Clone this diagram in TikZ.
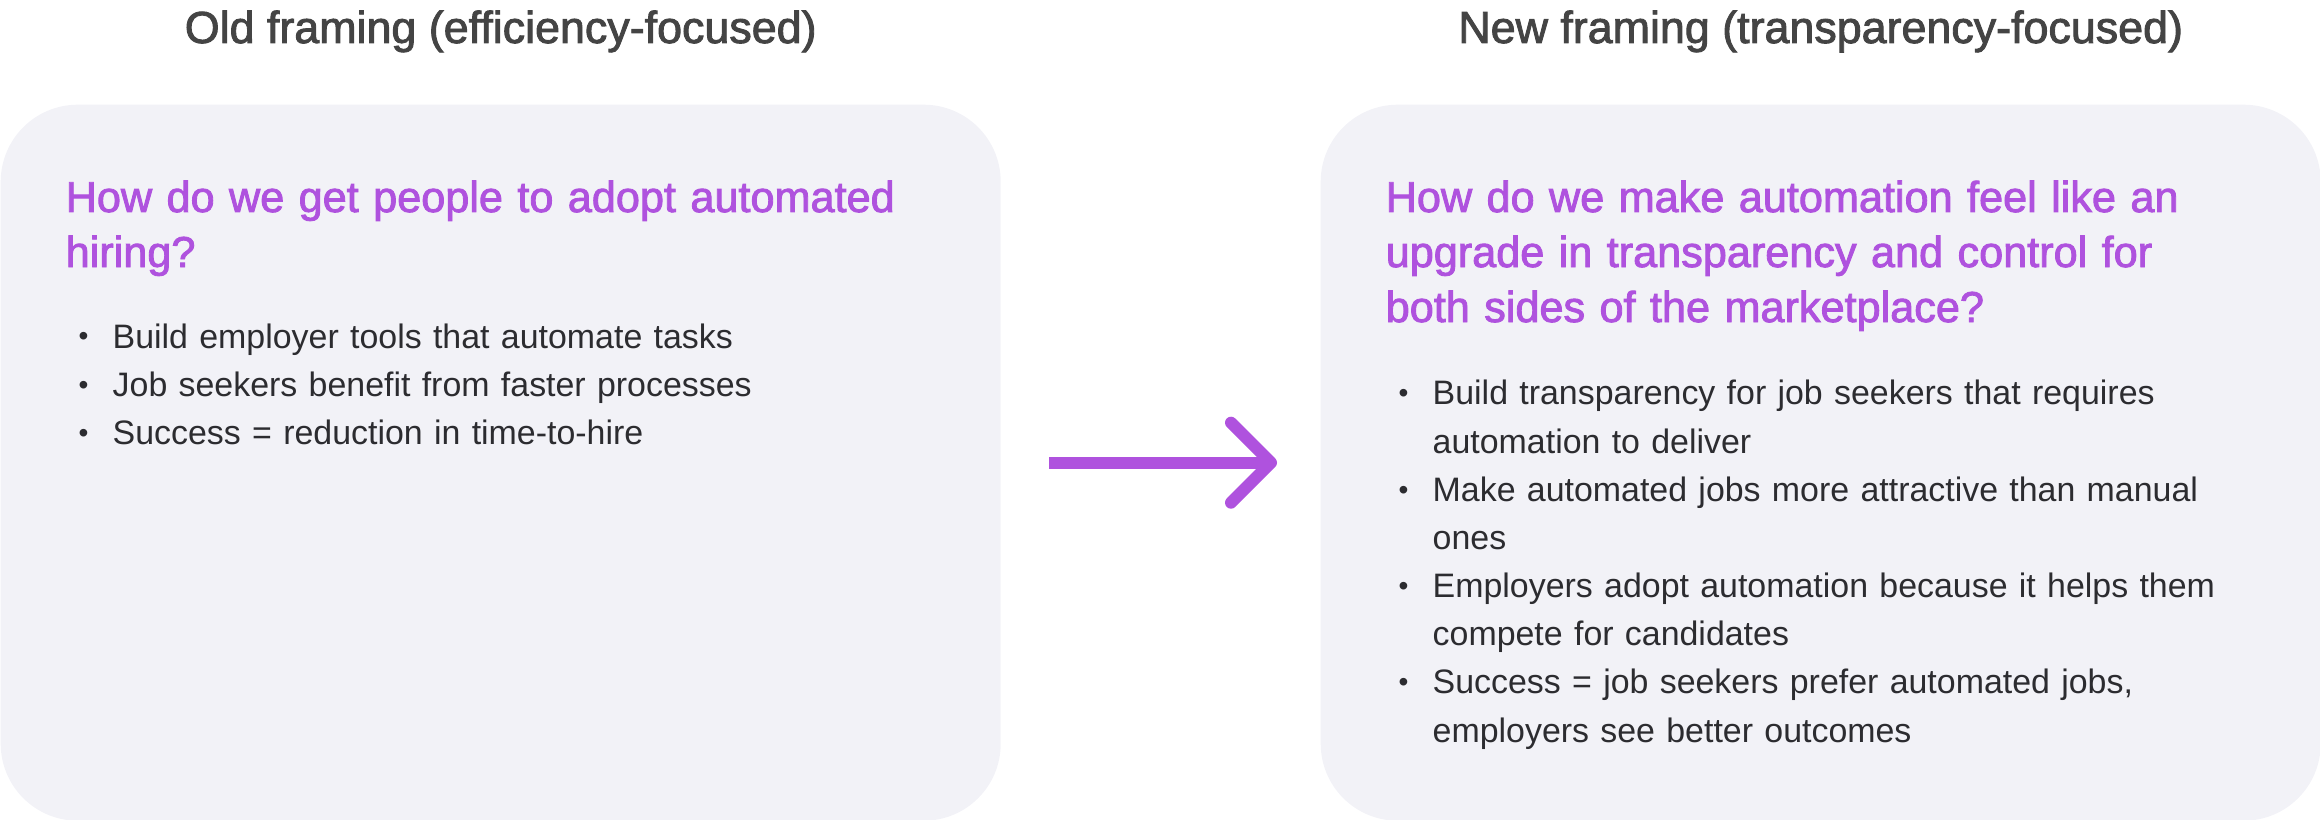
\documentclass[tikz,border=0pt]{standalone}
\usepackage{fontspec}
\setmainfont{Liberation Sans}
\newfontfamily\fontemedia{Liberation Sans}[RawFeature={embolden=2}]
\usepackage{xcolor}
\usepackage{tikz}
\usetikzlibrary{arrows.meta,positioning}
\definecolor{roxo}{RGB}{175,82,222}
\definecolor{cinzafundo}{RGB}{242,242,247}
\definecolor{cinzatitulo}{RGB}{68,68,68}
\definecolor{cinzatexto}{RGB}{44,44,48}
\newlength{\recuo}
\setlength{\recuo}{4.7mm}
\newcommand{\itemlista}[1]{\noindent\hangindent=\recuo\hangafter=1
  \makebox[\recuo][l]{\hspace{1.3mm}\raisebox{0.6pt}{\fontsize{8}{8}\selectfont\textbullet}}#1\par}
\tikzset{
  quadro/.style={rectangle,rounded corners=7.7mm,fill=cinzafundo,
    minimum width=100mm,minimum height=71.6mm,inner sep=0pt},
  titulo/.style={font=\fontemedia\fontsize{12.75}{15}\selectfont,text=cinzatitulo,inner sep=0pt},
  pergunta/.style={anchor=base west,text width=92mm,align=left,inner sep=0pt,
    font=\fontemedia\fontsize{12.3}{15.65}\selectfont,text=roxo},
  lista/.style={anchor=base west,text width=92mm,inner sep=0pt,
    font=\fontsize{9.65}{13.7}\selectfont\setlength{\parskip}{0pt},text=cinzatexto},
  seta/.style={-{Straight Barb[length=4mm,width=8mm,round]},line width=1.2mm,roxo}
}

\begin{document}
\begin{tikzpicture}
\useasboundingbox (0,0) rectangle (23.2,-8.2);
\node[quadro,anchor=north west] (velho) at (0,-1.04) {};
\node[quadro,anchor=north west] (novo) at (13.2,-1.04) {};
\node[titulo,above=6.1mm of velho.north,anchor=base] (tituloVelho) {Old framing (efficiency-focused)};
\node[titulo,above=6.1mm of novo.north,anchor=base] (tituloNovo) {New framing (transparency-focused)};
\node[pergunta] (perguntaVelho) at ([shift={(0.65,-1.08)}]velho.north west)
  {How do we get people to adopt automated\\hiring?};
\node[pergunta] (perguntaNovo) at ([shift={(0.65,-1.08)}]novo.north west)
  {How do we make automation feel like an\\upgrade in transparency and control for\\both sides of the marketplace?};
\node[lista] (listaVelho) at ([shift={(0.65,-2.44)}]velho.north west) {%
  \itemlista{Build employer tools that automate tasks}
  \itemlista{Job seekers benefit from faster processes}
  \itemlista{Success = reduction in time-to-hire}};
\node[lista] (listaNovo) at ([shift={(0.65,-3.01)}]novo.north west) {%
  \itemlista{Build transparency for job seekers that requires\newline automation to deliver}
  \itemlista{Make automated jobs more attractive than manual\newline ones}
  \itemlista{Employers adopt automation because it helps them\newline compete for candidates}
  \itemlista{Success = job seekers prefer automated jobs,\newline employers see better outcomes}};
\draw[seta,shorten <=4.8mm,shorten >=4.3mm] (velho.east) -- (novo.west);
\end{tikzpicture}
\end{document}
